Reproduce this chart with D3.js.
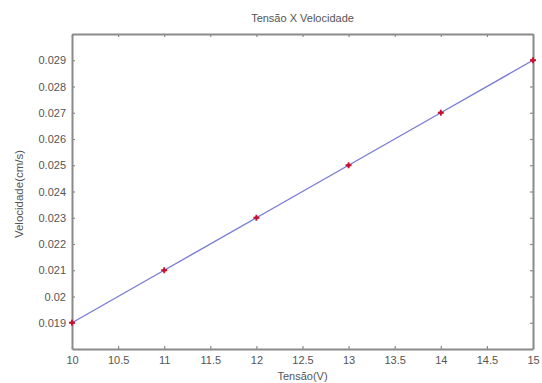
<!DOCTYPE html>
<html><head><meta charset="utf-8">
<script src="https://cdn.jsdelivr.net/npm/d3@7"></script>
<style>body{margin:0;background:#fff}svg{display:block}text{font-family:"Liberation Sans",Arial,sans-serif}</style>
</head><body>
<script>
const tensao = [10, 11, 12, 13, 14, 15];
const velocidade = [0.019, 0.021, 0.023, 0.025, 0.027, 0.029];
const xTicks = [10, 10.5, 11, 11.5, 12, 12.5, 13, 13.5, 14, 14.5, 15];
const xTickLabels = ["10","10.5","11","11.5","12","12.5","13","13.5","14","14.5","15"];
const yTicks = [0.019,0.020,0.021,0.022,0.023,0.024,0.025,0.026,0.027,0.028,0.029];
const yTickLabels = ["0.019","0.02","0.021","0.022","0.023","0.024","0.025","0.026","0.027","0.028","0.029"];
const title = "Tensão X Velocidade";
const xLabel = "Tensão(V)";
const yLabel = "Velocidade(cm/s)";

const W = 542, H = 383;
const m = {l:72, r:9, t:34, b:34};
const svg = d3.select("body").append("svg").attr("width", W).attr("height", H);
const x = d3.scaleLinear().domain([10, 15]).range([m.l, W - m.r]);
const y = d3.scaleLinear().domain([0.018, 0.030]).range([H - m.b, m.t]);
const axisCol = "#8a8a8a", textCol = "#555";

const gx = svg.append("g").attr("transform", `translate(0,${H - m.b})`)
  .call(d3.axisBottom(x).tickValues(xTicks).tickSizeInner(-3).tickSizeOuter(0).tickPadding(7)
    .tickFormat((d,i)=>xTickLabels[i]));
const gxt = svg.append("g").attr("transform", `translate(0,${m.t})`)
  .call(d3.axisTop(x).tickValues(xTicks).tickSizeInner(-3).tickSizeOuter(0).tickFormat(""));
const gy = svg.append("g").attr("transform", `translate(${m.l},0)`)
  .call(d3.axisLeft(y).tickValues(yTicks).tickSizeInner(-3).tickSizeOuter(0).tickPadding(6)
    .tickFormat((d,i)=>yTickLabels[i]));
const gyr = svg.append("g").attr("transform", `translate(${W - m.r},0)`)
  .call(d3.axisRight(y).tickValues(yTicks).tickSizeInner(-3).tickSizeOuter(0).tickFormat(""));

[gx, gxt, gy, gyr].forEach(g => {
  g.select(".domain").attr("stroke", axisCol).attr("stroke-width", 2);
  g.selectAll(".tick line").attr("stroke", axisCol).attr("stroke-width", 1.2);
  g.selectAll(".tick text").attr("fill", textCol).attr("font-size", 11);
});

const line = d3.line().x((d,i)=>x(tensao[i])).y(d=>y(d));
svg.append("path").datum(velocidade).attr("d", line)
  .attr("fill", "none").attr("stroke", "#7b7bd6").attr("stroke-width", 1.4);

const mk = svg.append("g");
velocidade.forEach((v,i) => {
  const cx = x(tensao[i]), cy = y(v);
  mk.append("path").attr("d", `M${cx-3},${cy}H${cx+3}M${cx},${cy-3}V${cy+3}`)
    .attr("stroke", "#c8102e").attr("stroke-width", 1.8);
  mk.append("circle").attr("cx", cx).attr("cy", cy).attr("r", 1.8).attr("fill", "#c8102e");
});

svg.append("text").attr("x", (m.l + W - m.r)/2).attr("y", 22).attr("text-anchor","middle")
  .attr("font-size", 11).attr("fill", textCol).text(title);
svg.append("text").attr("x", (m.l + W - m.r)/2).attr("y", 380).attr("text-anchor","middle")
  .attr("font-size", 11).attr("fill", textCol).text(xLabel);
svg.append("text").attr("transform", `translate(23,194) rotate(-90)`)
  .attr("text-anchor","middle").attr("font-size", 11.5).attr("fill", textCol).text(yLabel);
</script>
</body></html>
